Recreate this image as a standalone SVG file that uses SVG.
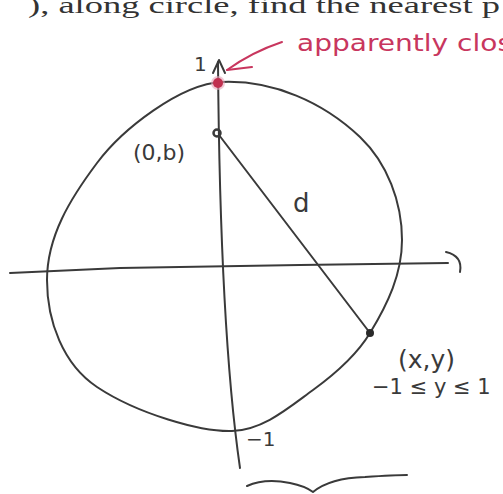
<svg xmlns="http://www.w3.org/2000/svg" width="503" height="494" viewBox="0 0 503 494">
<style>
.ink{fill:none;stroke:#3a3a3a;stroke-width:2;stroke-linecap:round;stroke-linejoin:round}
.red{fill:none;stroke:#c8365e;stroke-width:2;stroke-linecap:round;stroke-linejoin:round}
.hand{font-family:"DejaVu Sans","Liberation Sans",sans-serif;fill:#3a3a3a}
.redtxt{font-family:"DejaVu Sans","Liberation Sans",sans-serif;fill:#c8365e}
</style>
<rect width="503" height="494" fill="#ffffff"/>
<text x="28" y="13" font-family="Liberation Serif, serif" font-size="24" fill="#333" textLength="472" lengthAdjust="spacingAndGlyphs">), along circle, find the nearest p</text>

<g id="circle">
<path class="ink" d="M222,82 C273,80 323,102 360,137 C387.4,163.2 402,202 402,240 C402,274 387.7,303.8 370,333 C356,356.2 334.9,374.1 313,390 C287.9,408.3 263,430 232,431 C201,432 137.7,414 97,387 C63,364.5 47,321 47,280 C47,236 70.6,198.2 97,163 C122.2,129.4 180,84 222,82 Z"/>
</g>

<g id="axes">
<path class="ink" d="M218,62 Q220,330 240,468"/>
<path class="ink" d="M213,73 L219,60 L225,73"/>
<path class="ink" d="M10,273 L120,268 L300,265 L448,263"/>
<path class="ink" d="M446,252 Q463,256 460,272"/>
<text class="hand" x="194" y="71" font-size="20">1</text>
<text class="hand" x="246" y="446" font-size="20">−1</text>
</g>

<g id="connectors">
<line class="ink" x1="219" y1="135" x2="370" y2="333"/>
<text class="hand" x="293" y="212" font-size="26">d</text>
</g>

<g id="point-b">
<circle cx="217" cy="133" r="3.5" fill="none" stroke="#3a3a3a" stroke-width="2.5"/>
<text class="hand" x="133" y="160" font-size="22">(0,b)</text>
</g>

<g id="point-xy">
<circle cx="370" cy="333" r="4" fill="#2a2a2a"/>
<text class="hand" x="398" y="368" font-size="25">(x,y)</text>
<text class="hand" x="372" y="394" font-size="21">−1 ≤ y ≤ 1</text>
</g>

<g id="top-point">
<circle cx="218" cy="83" r="7" fill="#e7a3b8" opacity="0.6"/>
<circle cx="218" cy="83" r="5" fill="#c0304f"/>
</g>

<g id="annotation">
<path class="red" d="M227,70 Q252,52 282,42"/>
<path class="red" d="M227,70 L252,67"/>
<text class="redtxt" x="297" y="51" font-size="23" textLength="215" lengthAdjust="spacingAndGlyphs">apparently clos</text>
</g>

<g id="brace">
<path class="ink" d="M247,486 Q265,478 290,483 Q305,486 313,492 Q330,478 365,477 Q395,475 407,475"/>
</g>
</svg>
